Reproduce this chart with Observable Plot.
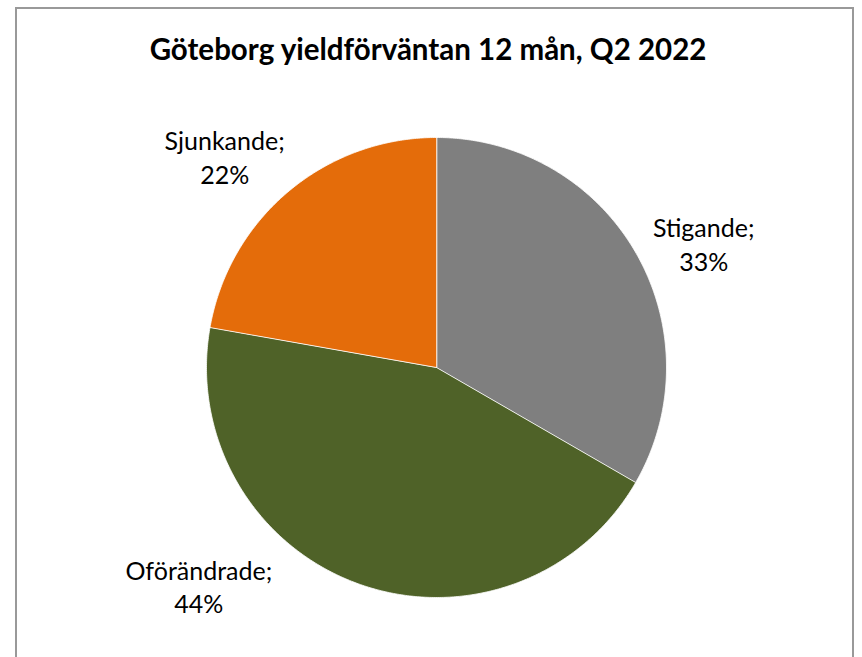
<!DOCTYPE html>
<html>
<head>
<meta charset="utf-8">
<script src="https://cdn.jsdelivr.net/npm/d3@7"></script>
<script src="https://cdn.jsdelivr.net/npm/@observablehq/plot@0.6"></script>
<style>
  html, body { margin: 0; padding: 0; background: #fff; overflow: hidden; }
  #chart { position: relative; width: 862px; height: 657px; overflow: hidden; font-family: Lato, "Open Sans", sans-serif; }
  #border { position: absolute; left: 15px; top: 7px; width: 839px; height: 700px; border: 2px solid #999; box-sizing: border-box; }
  #title { position: absolute; left: 0; width: 856px; top: 32px; text-align: center; font-weight: bold; font-size: 29.5px; color: #000; line-height: 34px; }
  #plot { position: absolute; left: 0; top: 0; }
</style>
</head>
<body>
<div id="chart">
  <div id="border"></div>
  <div id="plot"></div>
  <div id="title">Göteborg yieldförväntan 12 mån, Q2 2022</div>
</div>
<script>
// Data
const categories = ["Stigande", "Oförändrade", "Sjunkande"];
const shares = [33.3, 44.4, 22.2];
const colors = ["#7f7f7f", "#4f6228", "#e46c0a"];

// Layout
const W = 862, H = 657;
const cx = 436, cy = 367, R = 230;
const labelOffsets = [[68, -9], [-159, 2], [-64, -35]];

const slices = d3.pie().sort(null).value(d => d.value)(
  categories.map((name, i) => ({name, value: shares[i], color: colors[i]}))
);

function polygon(s) {
  const pts = [{x: cx, y: cy}];
  const n = Math.max(2, Math.ceil((s.endAngle - s.startAngle) / (Math.PI / 360)));
  for (let k = 0; k <= n; k++) {
    const a = s.startAngle + (s.endAngle - s.startAngle) * k / n;
    pts.push({x: cx + R * Math.sin(a), y: cy - R * Math.cos(a)});
  }
  return pts;
}

const total = d3.sum(shares);
const marks = [];
slices.forEach(s => {
  marks.push(Plot.line(polygon(s), {x: "x", y: "y", fill: s.data.color, stroke: "#fff", strokeWidth: 0.8, curve: "linear-closed", strokeLinejoin: "round"}));
});
slices.forEach((s, i) => {
  const mid = (s.startAngle + s.endAngle) / 2;
  const pct = Math.round(s.data.value / total * 100);
  marks.push(Plot.text([{x: cx + R * Math.sin(mid), y: cy - R * Math.cos(mid), t: s.data.name + ";\n" + pct + "%"}], {
    x: "x", y: "y", text: "t", dx: labelOffsets[i][0], dy: labelOffsets[i][1],
    fontSize: 25, lineHeight: 1.35, fill: "#000", textAnchor: "middle", lineAnchor: "middle",
    fontFamily: "Lato, 'Open Sans', sans-serif"
  }));
});

const svg = Plot.plot({
  width: W, height: H, margin: 0,
  x: {domain: [0, W], range: [0, W], axis: null},
  y: {domain: [0, H], range: [0, H], axis: null},
  style: {background: "transparent"},
  marks
});
document.getElementById("plot").appendChild(svg);
</script>
</body>
</html>
